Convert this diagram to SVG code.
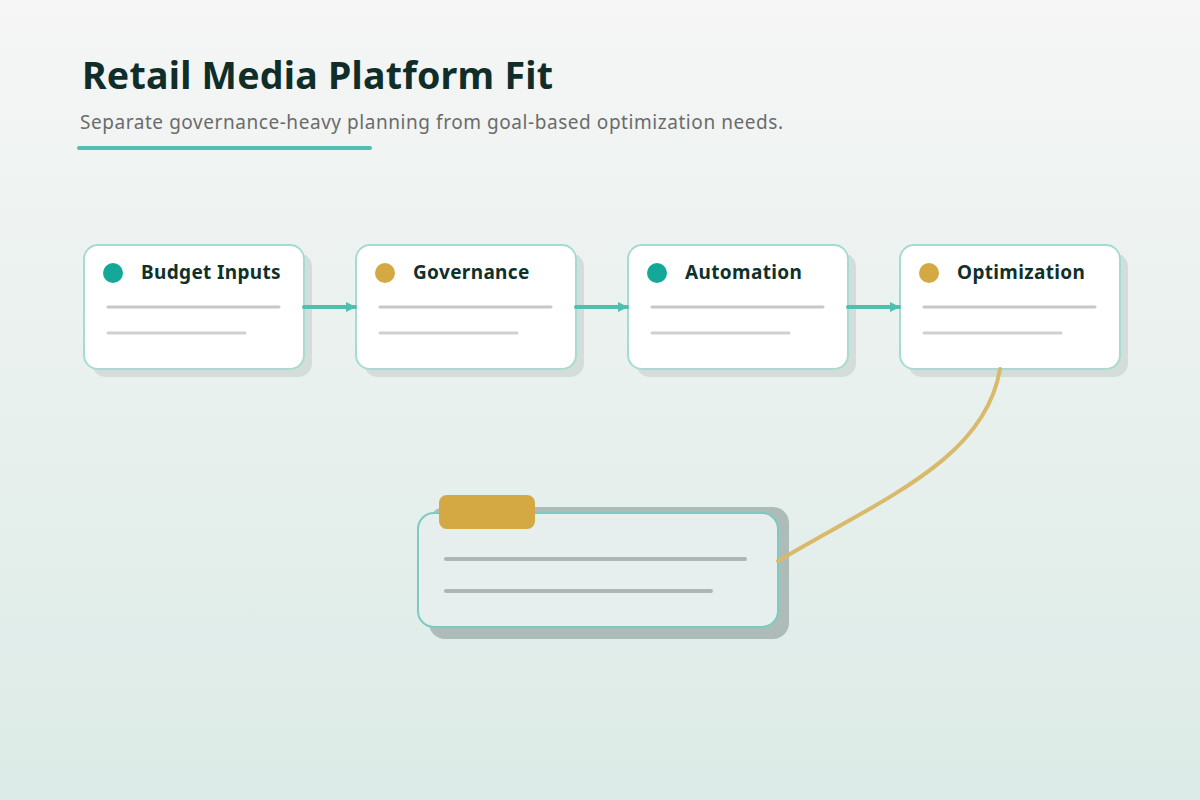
<svg xmlns="http://www.w3.org/2000/svg" width="1200" height="800" viewBox="0 0 1200 800">
<defs>
<linearGradient id="bg" x1="0" y1="0" x2="0" y2="1">
<stop offset="0" stop-color="#f5f6f5"/>
<stop offset="1" stop-color="#dcebe7"/>
</linearGradient>
<marker id="arr" viewBox="0 0 10 10" refX="9" refY="5" markerWidth="10" markerHeight="10" markerUnits="userSpaceOnUse" orient="auto">
<path d="M0,0 L10,5 L0,10 z" fill="#4fbfb0"/>
</marker>
<style>
.card{fill:#ffffff;stroke:#a6dbd3;stroke-width:2}
.shadow{fill:#d3dedb}
.ttl{font-family:"Noto Sans","Open Sans",sans-serif;font-weight:700;font-size:19px;letter-spacing:0.35px;fill:#10302b}
.ln1{stroke:#c8c8c8;stroke-width:3;stroke-linecap:round}
.ln2{stroke:#d0d0d0;stroke-width:3;stroke-linecap:round}
.conn{stroke:#4fbfb0;stroke-width:4;fill:none;stroke-linecap:round}
</style>
</defs>
<rect width="1200" height="800" fill="url(#bg)"/>
<g id="header">
<text x="82" y="89" font-family="Noto Sans, Open Sans, sans-serif" font-weight="700" font-size="37.5" fill="#0f2e2a" textLength="471" lengthAdjust="spacing">Retail Media Platform Fit</text>
<text x="80" y="129" font-family="Noto Sans, Open Sans, sans-serif" font-size="19" fill="#6b6b6b" textLength="703" lengthAdjust="spacing">Separate governance-heavy planning from goal-based optimization needs.</text>
<line x1="79" y1="148" x2="370" y2="148" stroke="#52bdb1" stroke-width="4" stroke-linecap="round"/>
</g>
<g id="node-budget">
<rect class="shadow" x="92" y="253" width="220" height="124" rx="14"/>
<rect class="card" x="84" y="245" width="220" height="124" rx="14"/>
<circle cx="113" cy="273" r="10" fill="#14a898"/>
<text class="ttl" x="141" y="279">Budget Inputs</text>
<line class="ln1" x1="108" y1="307" x2="279" y2="307"/>
<line class="ln2" x1="108" y1="333" x2="245" y2="333"/>
</g>
<g id="node-governance">
<rect class="shadow" x="364" y="253" width="220" height="124" rx="14"/>
<rect class="card" x="356" y="245" width="220" height="124" rx="14"/>
<circle cx="385" cy="273" r="10" fill="#d4a843"/>
<text class="ttl" x="413" y="279">Governance</text>
<line class="ln1" x1="380" y1="307" x2="551" y2="307"/>
<line class="ln2" x1="380" y1="333" x2="517" y2="333"/>
</g>
<g id="node-automation">
<rect class="shadow" x="636" y="253" width="220" height="124" rx="14"/>
<rect class="card" x="628" y="245" width="220" height="124" rx="14"/>
<circle cx="657" cy="273" r="10" fill="#14a898"/>
<text class="ttl" x="685" y="279">Automation</text>
<line class="ln1" x1="652" y1="307" x2="823" y2="307"/>
<line class="ln2" x1="652" y1="333" x2="789" y2="333"/>
</g>
<g id="node-optimization">
<rect class="shadow" x="908" y="253" width="220" height="124" rx="14"/>
<rect class="card" x="900" y="245" width="220" height="124" rx="14"/>
<circle cx="929" cy="273" r="10" fill="#d4a843"/>
<text class="ttl" x="957" y="279">Optimization</text>
<line class="ln1" x1="924" y1="307" x2="1095" y2="307"/>
<line class="ln2" x1="924" y1="333" x2="1061" y2="333"/>
</g>
<g id="node-detail">
<rect x="429" y="507" width="360" height="132" rx="16" fill="#aebcb9"/>
<rect x="418" y="513" width="360" height="114" rx="16" fill="#e6efee" stroke="#7fcac0" stroke-width="2"/>
<rect x="439" y="495" width="96" height="34" rx="8" fill="#d4a843"/>
<line x1="446" y1="559" x2="745" y2="559" stroke="#b0b4b4" stroke-width="4" stroke-linecap="round"/>
<line x1="446" y1="591" x2="711" y2="591" stroke="#b0b4b4" stroke-width="4" stroke-linecap="round"/>
</g>
<g id="connectors">
<line class="conn" x1="304" y1="307" x2="355" y2="307" marker-end="url(#arr)"/>
<line class="conn" x1="576" y1="307" x2="627" y2="307" marker-end="url(#arr)"/>
<line class="conn" x1="848" y1="307" x2="899" y2="307" marker-end="url(#arr)"/>
<path d="M1000 369 C 985 460, 880 500, 778 561" stroke="#d9b96a" stroke-width="4" fill="none" stroke-linecap="round"/>
</g>
</svg>
